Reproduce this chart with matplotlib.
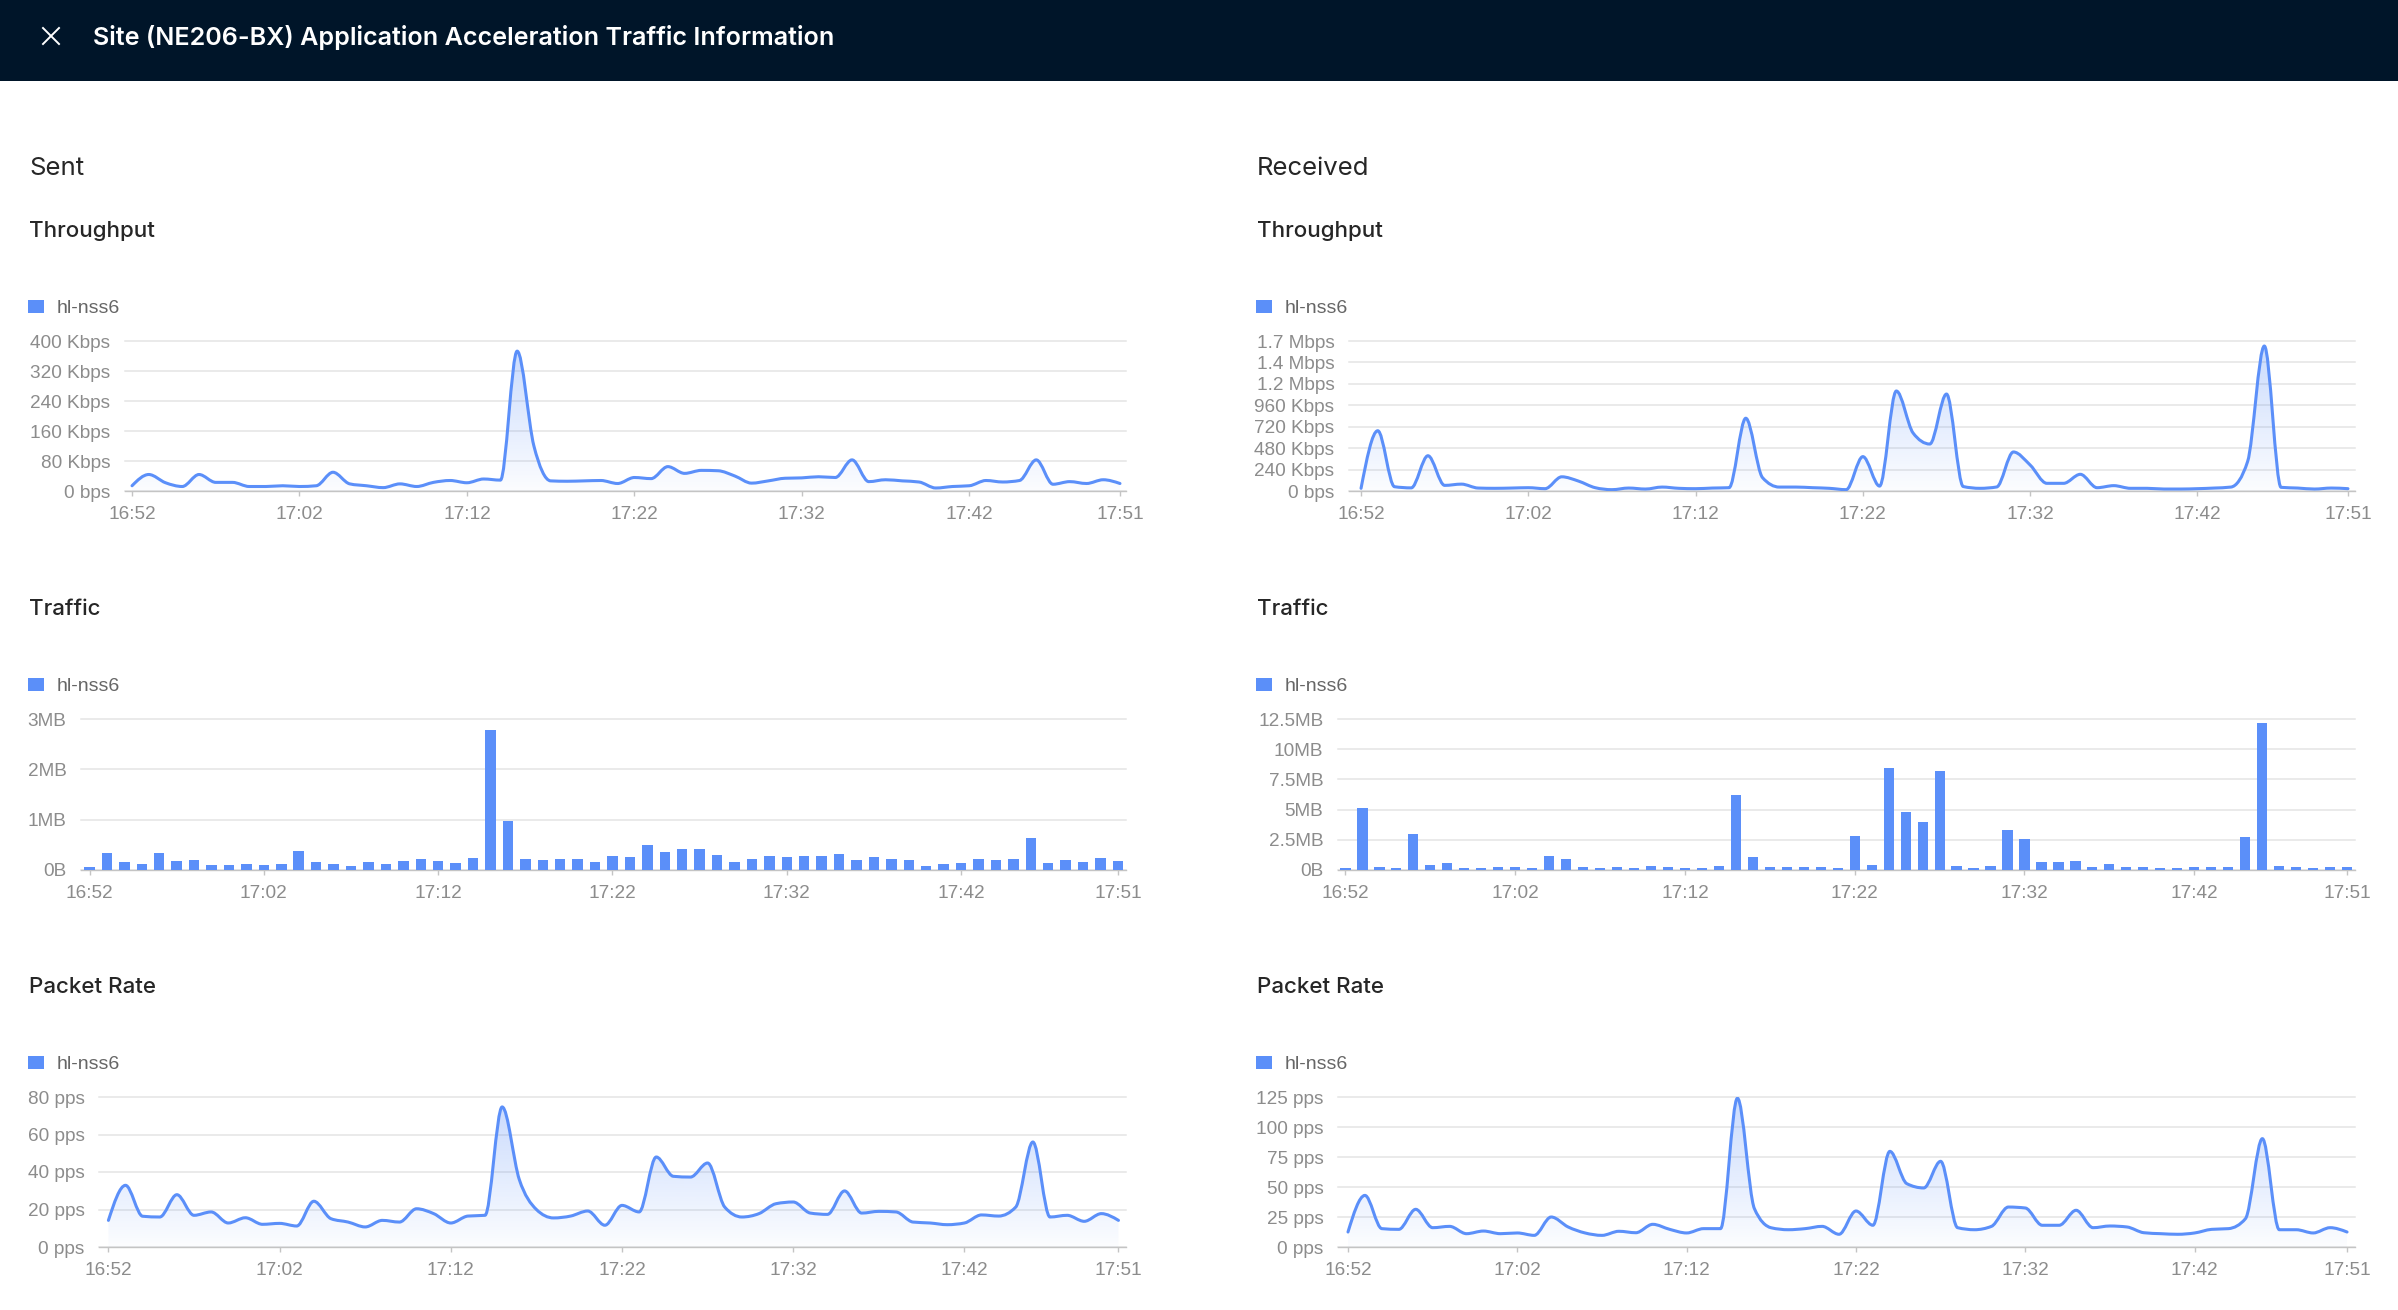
import matplotlib
matplotlib.use('Agg')
import matplotlib.pyplot as plt
from matplotlib.path import Path
from matplotlib.patches import PathPatch, Rectangle
from matplotlib.lines import Line2D
import numpy as np
import pandas as pd

# ---------------- data ----------------
times = [t.strftime('%H:%M') for t in pd.date_range('2024-01-01 16:52', periods=60, freq='min')]
xtick_labels = ['16:52', '17:02', '17:12', '17:22', '17:32', '17:42', '17:51']

sent_throughput_kbps = [14, 44, 22, 12, 44, 23, 23, 12, 12, 14,
                        12, 14, 50, 19, 14, 9, 19, 12, 23, 28,
                        22, 32, 29, 373, 120, 27, 26, 27, 28, 20,
                        36, 33, 65, 47, 55, 54, 40, 21, 27, 34,
                        35, 38, 36, 83, 25, 30, 27, 24, 8, 12,
                        14, 28, 24, 28, 83, 18, 25, 20, 30, 20]
recv_throughput_kbps = [30, 675, 48, 35, 395, 63, 77, 33, 30, 33,
                        37, 26, 159, 111, 37, 15, 33, 22, 44, 30,
                        26, 33, 37, 815, 150, 44, 44, 37, 30, 15,
                        385, 55, 1120, 650, 526, 1086, 50, 30, 45, 437,
                        291, 86, 86, 187, 37, 60, 30, 30, 22, 22,
                        26, 33, 44, 330, 1624, 41, 33, 22, 33, 26]

sent_traffic_mb = [0.06, 0.34, 0.16, 0.11, 0.34, 0.18, 0.19, 0.10, 0.09, 0.12,
                   0.10, 0.12, 0.38, 0.15, 0.11, 0.08, 0.15, 0.11, 0.18, 0.22,
                   0.18, 0.13, 0.24, 2.79, 0.98, 0.22, 0.20, 0.21, 0.22, 0.15,
                   0.28, 0.26, 0.49, 0.35, 0.42, 0.42, 0.29, 0.16, 0.22, 0.27,
                   0.26, 0.28, 0.28, 0.32, 0.19, 0.25, 0.21, 0.19, 0.08, 0.11,
                   0.13, 0.22, 0.19, 0.21, 0.63, 0.14, 0.19, 0.16, 0.24, 0.18]
recv_traffic_mb = [0.14, 5.17, 0.28, 0.19, 2.99, 0.44, 0.58, 0.19, 0.19, 0.22,
                   0.25, 0.19, 1.16, 0.88, 0.22, 0.14, 0.22, 0.19, 0.30, 0.22,
                   0.19, 0.14, 0.30, 6.17, 1.11, 0.22, 0.28, 0.28, 0.25, 0.17,
                   2.85, 0.41, 8.43, 4.78, 3.95, 8.16, 0.36, 0.19, 0.30, 3.32,
                   2.54, 0.64, 0.66, 0.72, 0.22, 0.50, 0.22, 0.22, 0.17, 0.19,
                   0.22, 0.22, 0.28, 2.77, 12.17, 0.33, 0.25, 0.17, 0.22, 0.22]

sent_pps = [14.2, 32.9, 16.4, 16.0, 27.9, 16.9, 18.7, 12.8, 15.6, 12.1,
            12.6, 11.2, 24.4, 15.1, 13.3, 10.7, 14.2, 13.3, 20.4, 17.8,
            12.8, 16.5, 16.9, 74.7, 36.0, 20.0, 15.5, 16.5, 19.2, 11.6,
            22.2, 18.7, 48.0, 37.7, 37.3, 44.8, 21.3, 16.0, 17.8, 23.1,
            24.0, 18.1, 17.4, 29.9, 18.1, 19.0, 18.7, 13.3, 12.8, 11.9,
            12.8, 17.1, 16.5, 21.3, 56.0, 16.0, 16.9, 13.7, 17.8, 14.2]
recv_pps = [12.5, 43.0, 15.3, 14.7, 31.4, 16.1, 17.2, 11.1, 13.3, 11.1,
            11.7, 9.7, 25.0, 16.7, 11.7, 9.7, 13.1, 11.9, 18.9, 14.7,
            11.7, 15.3, 15.3, 124.0, 32.0, 16.0, 14.4, 15.3, 17.2, 10.6,
            30.0, 18.1, 79.7, 52.8, 49.2, 71.4, 16.1, 14.4, 17.2, 33.3,
            32.5, 18.1, 18.1, 30.6, 16.1, 17.5, 16.7, 11.9, 11.1, 10.6,
            11.7, 14.7, 15.3, 23.6, 90.3, 14.4, 14.4, 11.7, 16.1, 12.5]

sent_thr_ticks = [0, 80, 160, 240, 320, 400]
sent_thr_labels = ['0 bps', '80 Kbps', '160 Kbps', '240 Kbps', '320 Kbps', '400 Kbps']
recv_thr_ticks = [0, 240, 480, 720, 960, 1200, 1440, 1680]
recv_thr_labels = ['0 bps', '240 Kbps', '480 Kbps', '720 Kbps', '960 Kbps', '1.2 Mbps', '1.4 Mbps', '1.7 Mbps']
sent_trf_ticks = [0, 1, 2, 3]
sent_trf_labels = ['0B', '1MB', '2MB', '3MB']
recv_trf_ticks = [0, 2.5, 5, 7.5, 10, 12.5]
recv_trf_labels = ['0B', '2.5MB', '5MB', '7.5MB', '10MB', '12.5MB']
sent_pps_ticks = [0, 20, 40, 60, 80]
sent_pps_labels = ['0 pps', '20 pps', '40 pps', '60 pps', '80 pps']
recv_pps_ticks = [0, 25, 50, 75, 100, 125]
recv_pps_labels = ['0 pps', '25 pps', '50 pps', '75 pps', '100 pps', '125 pps']

series_name = 'hl-nss6'
title = 'Site (NE206-BX) Application Acceleration Traffic Information'

# ---------------- style ----------------
W, H = 2398, 1310
BLUE = '#5B8FF9'
TICK_C = '#8c8c8c'
GRID_C = '#e4e4e4'
AXIS_C = '#c4c4c4'
TXT_C = '#262626'
UI_FONT = ['Inter', 'DejaVu Sans']
CH_FONT = ['Liberation Sans', 'DejaVu Sans']

fig = plt.figure(figsize=(W / 100, H / 100), dpi=100)
fig.patch.set_facecolor('white')


def fx(px):
    return px / W


def fy(py):
    return 1 - py / H


# header
fig.add_artist(Rectangle((0, fy(81)), 1, 81 / H, transform=fig.transFigure,
                         facecolor='#001529', edgecolor='none', zorder=0))
for (a, b) in [((43, 28), (59, 44)), ((43, 44), (59, 28))]:
    fig.add_artist(Line2D([fx(a[0]), fx(b[0])], [fy(a[1]), fy(b[1])], color='white',
                          lw=1.4, transform=fig.transFigure))
fig.text(fx(93), fy(45), title, color='white', fontsize=18.1, fontweight='semibold',
         family=UI_FONT, va='baseline', ha='left')


def monotone_path(x, y, close_to=None):
    x = np.asarray(x, float)
    y = np.asarray(y, float)
    n = len(x)
    h = np.diff(x)
    d = np.diff(y) / h
    m = np.zeros(n)
    for i in range(1, n - 1):
        s0, s1 = d[i - 1], d[i]
        p = (s0 * h[i] + s1 * h[i - 1]) / (h[i - 1] + h[i])
        m[i] = (np.sign(s0) + np.sign(s1)) * min(abs(s0), abs(s1), 0.5 * abs(p))
    m[0] = (3 * d[0] - m[1]) / 2 if n > 2 else d[0]
    m[-1] = (3 * d[-1] - m[-2]) / 2 if n > 2 else d[-1]
    verts = [(x[0], y[0])]
    codes = [Path.MOVETO]
    for i in range(n - 1):
        hh = h[i] / 3
        verts += [(x[i] + hh, y[i] + m[i] * hh), (x[i + 1] - hh, y[i + 1] - m[i + 1] * hh), (x[i + 1], y[i + 1])]
        codes += [Path.CURVE4] * 3
    if close_to is not None:
        verts += [(x[-1], close_to), (x[0], close_to), (x[0], y[0])]
        codes += [Path.LINETO, Path.LINETO, Path.CLOSEPOLY]
    return Path(verts, codes)


def make_axes(x0, x1, y0, y1):
    return fig.add_axes([fx(x0), fy(y1), (x1 - x0) / W, (y1 - y0) / H])


def style_axes(ax, yt, yl, xlim, ylim):
    ax.set_facecolor('none')
    ax.set_xlim(*xlim)
    ax.set_ylim(*ylim)
    for s in ['top', 'right', 'left']:
        ax.spines[s].set_visible(False)
    ax.spines['bottom'].set_color(AXIS_C)
    ax.spines['bottom'].set_linewidth(1.0)
    ax.spines['bottom'].set_zorder(1.5)
    ax.set_yticks(yt)
    ax.set_yticklabels(yl, family=CH_FONT)
    pos = [times.index(t) for t in xtick_labels]
    ax.set_xticks(pos)
    ax.set_xticklabels(xtick_labels, family=CH_FONT)
    ax.tick_params(axis='y', length=0, pad=10.5, labelsize=13.7, labelcolor=TICK_C)
    ax.tick_params(axis='x', length=3.6, width=1.0, color=AXIS_C, pad=7.5,
                   labelsize=13.7, labelcolor=TICK_C)
    ax.grid(axis='y', color=GRID_C, lw=1.1)
    ax.set_axisbelow(True)
    for gl in ax.get_ygridlines():
        gl.set_clip_on(False)


def area_line(ax, values):
    x = np.arange(len(values))
    y = np.asarray(values, float)
    area = monotone_path(x, y, close_to=0)
    patch = PathPatch(area, facecolor='none', edgecolor='none')
    ax.add_patch(patch)
    grad = np.zeros((256, 1, 4))
    c = matplotlib.colors.to_rgb(BLUE)
    grad[..., 0], grad[..., 1], grad[..., 2] = c
    grad[:, 0, 3] = np.linspace(0.32, 0.02, 256)
    im = ax.imshow(grad, extent=(x[0], x[-1], 0, y.max()), origin='upper',
                   aspect='auto', zorder=2, interpolation='bilinear')
    im.set_clip_path(patch)
    line = PathPatch(monotone_path(x, y), facecolor='none', edgecolor=BLUE,
                     lw=2.2, zorder=3, capstyle='round', joinstyle='round')
    ax.add_patch(line)


def bars(ax, values):
    x = np.arange(len(values))
    ax.bar(x, values, width=0.6, color=BLUE, zorder=2)


def section_text(x, row_off, label):
    fig.text(fx(x), fy(236.7 + row_off), label, fontsize=16.1, fontweight='medium',
             color=TXT_C, family=UI_FONT, va='baseline')
    fig.add_artist(Rectangle((fx(x - 1), fy(313 + row_off)), 16 / W, 13 / H,
                             transform=fig.transFigure, facecolor=BLUE, edgecolor='none'))
    fig.text(fx(x + 28), fy(313 + row_off), series_name, fontsize=14, color='#666666',
             family=CH_FONT, va='baseline')


# column headings
fig.text(fx(29), fy(175), 'Sent', fontsize=18.5, color=TXT_C, family=UI_FONT, va='baseline')
fig.text(fx(1257), fy(175), 'Received', fontsize=18.5, color=TXT_C, family=UI_FONT, va='baseline')

for col_x in (29, 1257):
    section_text(col_x, 0, 'Throughput')
    section_text(col_x, 378, 'Traffic')
    section_text(col_x, 756, 'Packet Rate')

# Throughput
ax = make_axes(125, 1126, 341, 491)
area_line(ax, sent_throughput_kbps)
style_axes(ax, sent_thr_ticks, sent_thr_labels, (-0.42, 59.36), (0, 400))

ax = make_axes(1349, 2355, 341, 491)
area_line(ax, recv_throughput_kbps)
style_axes(ax, recv_thr_ticks, recv_thr_labels, (-0.72, 59.42), (0, 1680))

# Traffic
ax = make_axes(81, 1126, 719, 870)
bars(ax, sent_traffic_mb)
style_axes(ax, sent_trf_ticks, sent_trf_labels, (-0.49, 59.46), (0, 3))

ax = make_axes(1338, 2355, 719, 870)
bars(ax, recv_traffic_mb)
style_axes(ax, recv_trf_ticks, recv_trf_labels, (-0.44, 59.47), (0, 12.5))

# Packet rate
ax = make_axes(99, 1126, 1097, 1247)
area_line(ax, sent_pps)
style_axes(ax, sent_pps_ticks, sent_pps_labels, (-0.55, 59.44), (0, 80))

ax = make_axes(1338, 2355, 1097, 1247)
area_line(ax, recv_pps)
style_axes(ax, recv_pps_ticks, recv_pps_labels, (-0.59, 59.47), (0, 125))

fig.savefig('out.png', dpi=100, facecolor='white')
